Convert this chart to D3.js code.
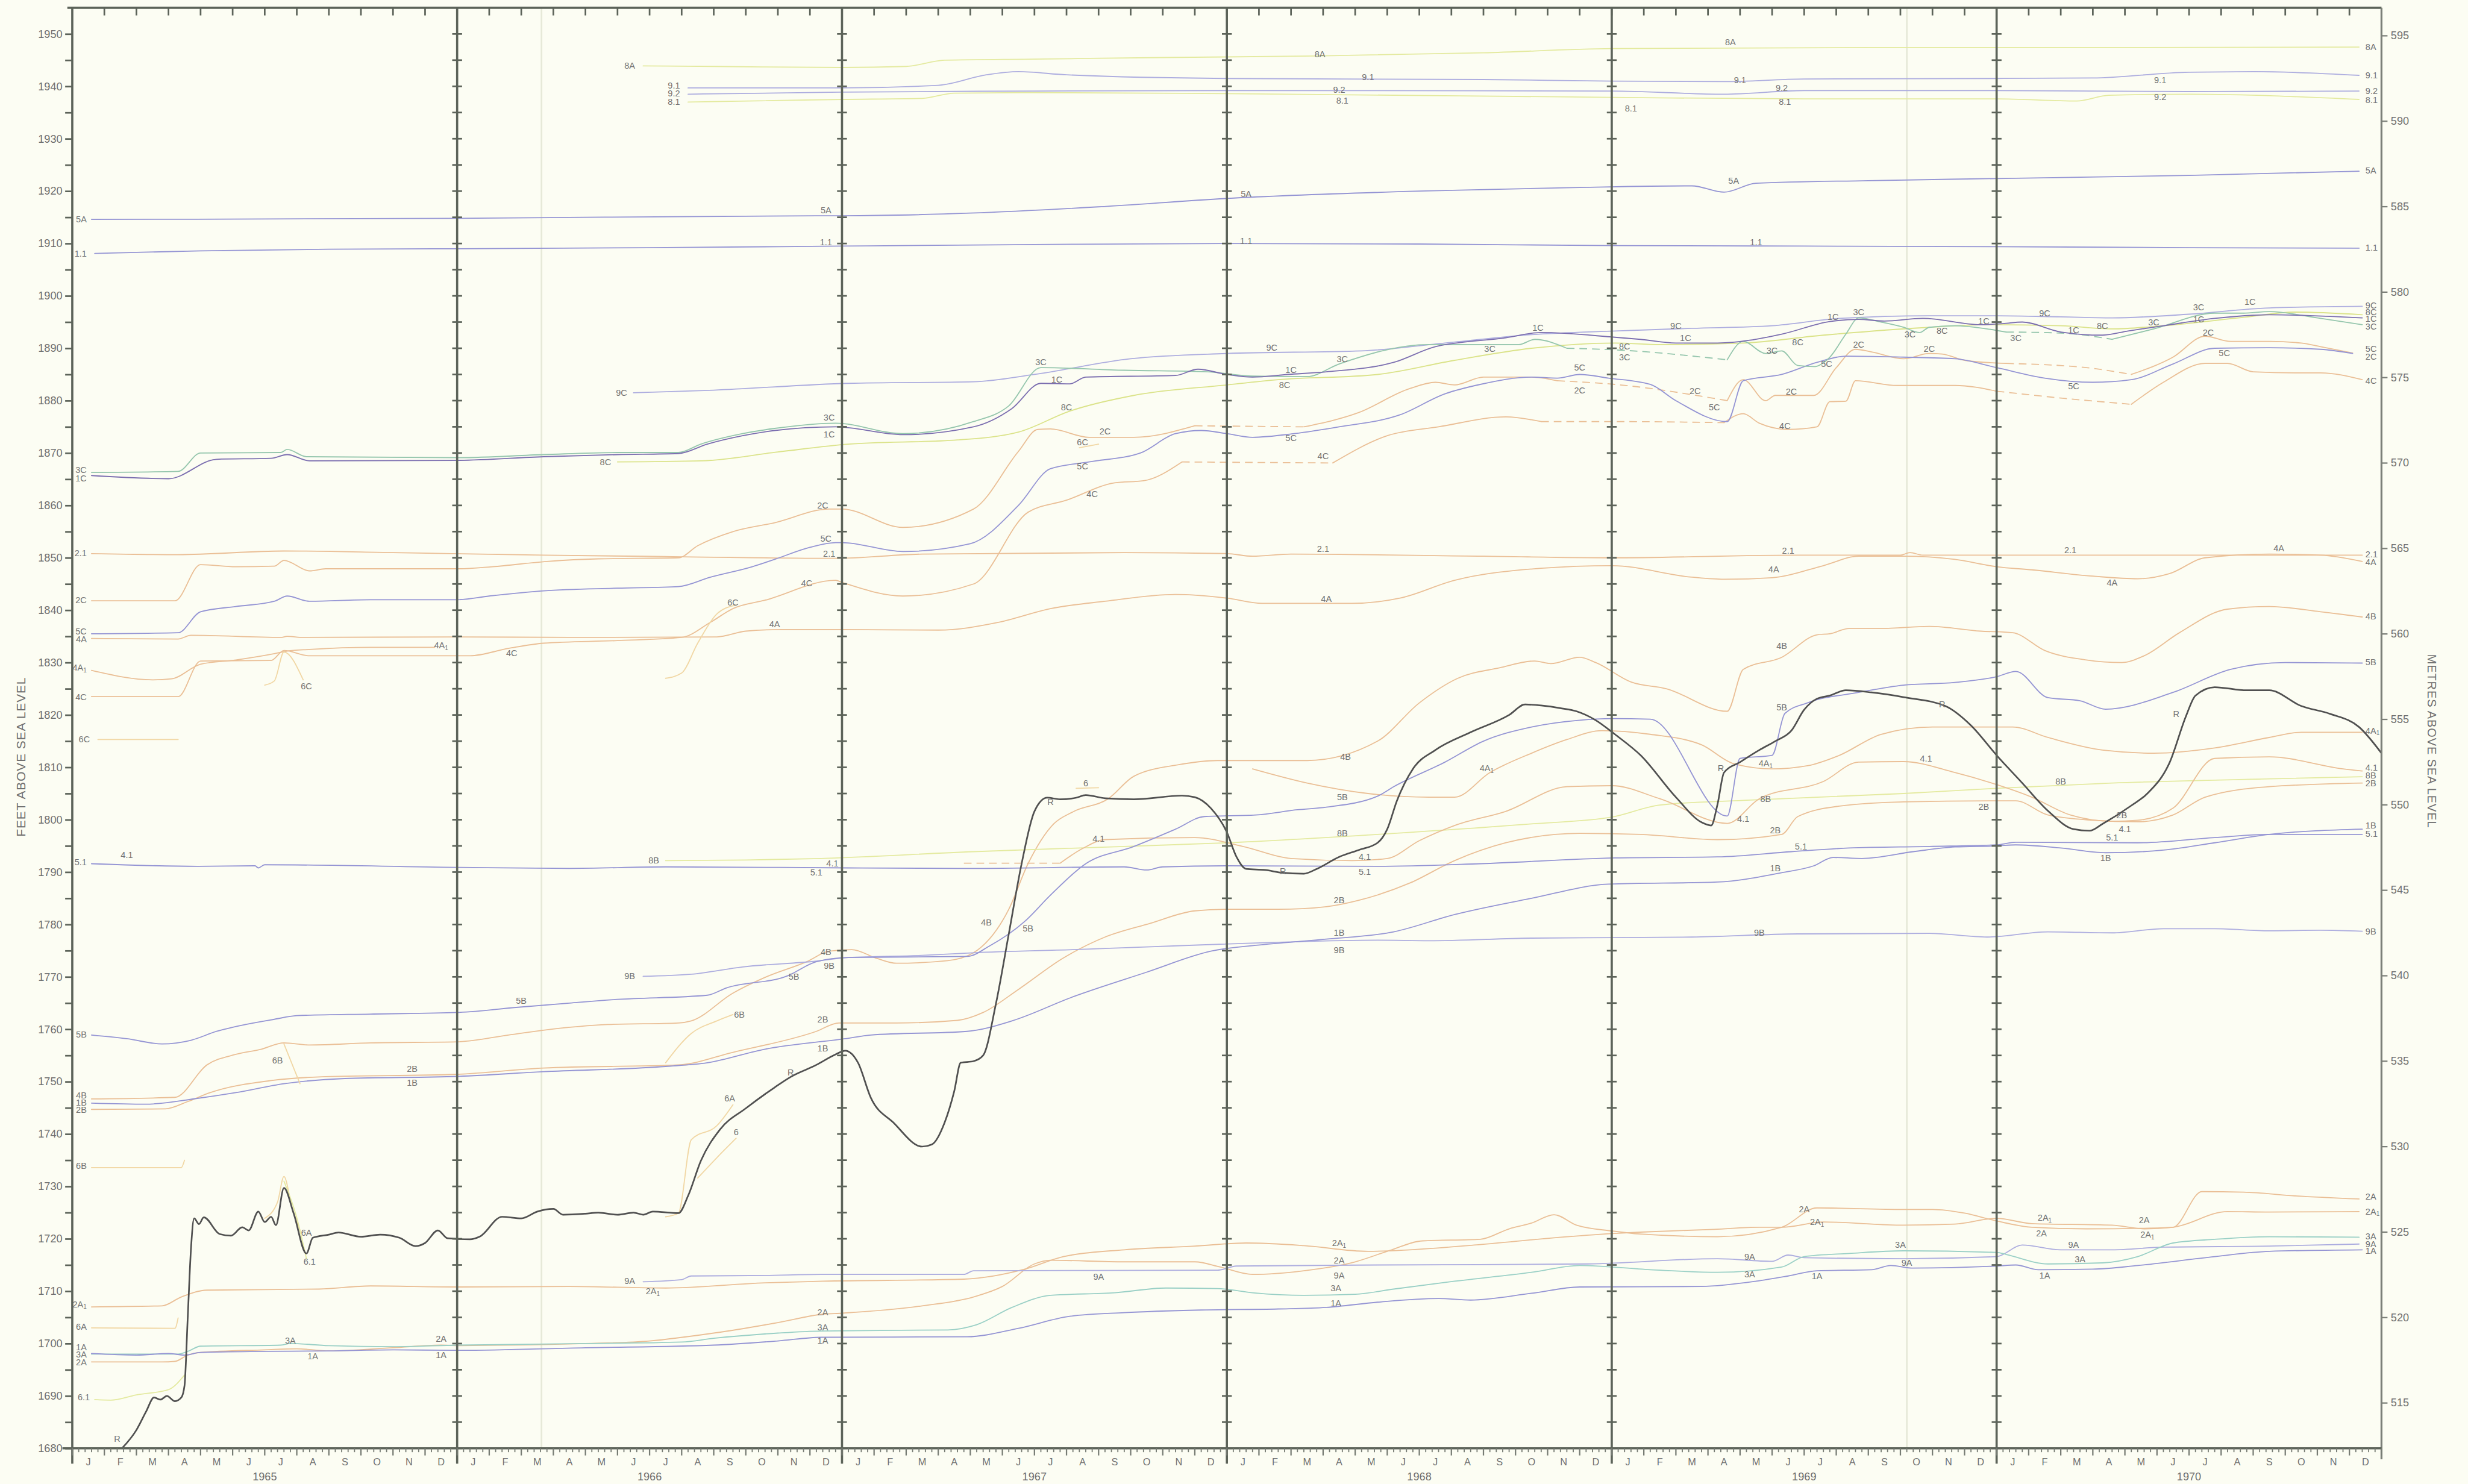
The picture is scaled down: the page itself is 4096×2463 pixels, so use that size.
<!DOCTYPE html>
<html><head><meta charset="utf-8">
<script src="https://cdn.jsdelivr.net/npm/d3@7"></script>
<style>html,body{margin:0;padding:0;background:#fcfdf3;}svg{display:block}</style>
</head><body>
<script>
// ---------------- DATA (t = months since 1 Jan 1965, value = feet above sea level) ----------------
const years = ['1965','1966','1967','1968','1969','1970'];
const monthLetters = ['J','F','M','A','M','J','J','A','S','O','N','D'];
const feetTicks = d3.range(1680, 1951, 5);
const metreTicks = d3.range(515, 596, 5);
const foldMonths = [14.63, 57.2];

const s8A = [[17.8,1943.9],[20,1943.8],[24,1943.6],[26,1943.8],[27.2,1945.0],[30,1945.2],[34,1945.5],[38.8,1945.8],[44,1946.4],[48,1947.2],[56,1947.4],[64,1947.4],[71.3,1947.5]];
const s91 = [[19.2,1939.7],[24,1939.7],[27,1940.2],[28.5,1942.2],[29.5,1942.8],[31,1942.2],[36,1941.5],[44,1941.3],[48,1941.0],[51.5,1940.9],[54,1941.4],[60,1941.5],[63,1941.6],[66,1942.7],[68,1942.8],[71.3,1942.1]];
const s92 = [[19.2,1938.5],[24,1938.9],[30,1939.1],[36,1939.2],[48,1939.1],[51.5,1938.5],[54,1939.2],[60,1939.2],[66,1939.0],[71.3,1939.1]];
const s81 = [[19.2,1937.0],[24,1937.5],[26.5,1937.7],[27.5,1938.7],[30,1938.8],[36,1938.6],[48,1937.9],[54,1937.6],[60,1937.6],[62.5,1937.2],[63.5,1938.3],[66,1938.5],[71.3,1937.5]];
const s5A = [[0.6,1914.6],[12,1914.8],[23.3,1915.3],[24,1915.3],[28,1915.8],[32,1917],[36,1918.6],[42,1920],[47,1920.7],[50.5,1921],[51.5,1919.8],[52.5,1921.5],[56,1922],[60,1922.4],[66,1923],[71.3,1923.8]];
const s11 = [[0.7,1908.1],[4,1908.6],[8,1908.9],[12,1909.0],[18,1909.2],[24,1909.5],[30,1909.8],[36,1910.0],[42,1909.9],[48,1909.6],[54,1909.5],[60,1909.4],[66,1909.2],[71.3,1909.1]];
const s9C = [[17.5,1881.5],[20,1882],[24.2,1883.3],[28.1,1883.6],[30,1885],[33,1888],[36,1889],[40.2,1889.5],[42.8,1891],[45.5,1892.6],[48.1,1893.3],[50.5,1893.8],[53,1894.3],[55.1,1895.7],[57.9,1896.2],[60,1896.2],[62,1896],[63.6,1895.8],[66,1896.5],[68.5,1897.7],[71.4,1898]];
const s3C_a = [[0.6,1866.3],[3.3,1866.5],[4.0,1870],[6.5,1870.1],[6.7,1870.7],[7.3,1869.3],[12,1869.1],[14.7,1869.7],[17,1870.1],[18.9,1870.1],[19.6,1871.7],[20.9,1873.7],[21.9,1874.7],[23.8,1875.7],[25.9,1873.7],[28.1,1876],[29.2,1879],[30.2,1886.3],[32.8,1885.8],[35.4,1885.5],[36.8,1884.7],[38.5,1884.6],[39.5,1887],[42.3,1890.7],[45.1,1890.7],[45.6,1891.7],[46.6,1890]];
const s3C_b = [[46.6,1890],[48.1,1889.7],[51.6,1887.8]];
const s3C_c = [[51.6,1887.8],[52.1,1891.3],[52.8,1889],[53.3,1889.5],[53.8,1886.7],[54.3,1886.5],[54.8,1888.3],[55.3,1892.7],[55.7,1895.8],[56.4,1895],[57.1,1894],[57.6,1893],[57.9,1894],[58.7,1894.3],[59.7,1893.7],[60.3,1893.1]];
const s3C_d = [[60.3,1893.1],[62,1892.9],[63.6,1891.7]];
const s3C_e = [[63.6,1891.7],[64.9,1893.7],[66.8,1896.7],[67.7,1896.7],[68.5,1897.0],[70.1,1895.7],[71.4,1894.5]];
const s1C = [[0.6,1865.7],[3.0,1865.1],[4.5,1868.8],[6.2,1869],[6.7,1869.7],[7.4,1868.5],[12,1868.6],[14.7,1869.3],[17,1869.7],[18.9,1869.9],[19.8,1871.7],[20.9,1873.3],[21.9,1874.3],[23.8,1875],[25.9,1873.5],[28.1,1875],[29.3,1878.5],[30.2,1883.3],[31.1,1883.2],[31.6,1884.5],[34.4,1884.8],[35.1,1886],[36,1885],[36.8,1884.5],[37.9,1885],[39.1,1885.5],[41.2,1887.3],[42.5,1890.3],[44.7,1892],[45.8,1893],[48.1,1892.1],[48.9,1891.7],[50,1891],[51.3,1891],[53.3,1892.7],[54.8,1895.1],[55.7,1895.5],[56.5,1895.2],[57.7,1895.7],[59.5,1894.5],[60.2,1894.7],[60.8,1895],[62,1893.1],[63.3,1892.5],[64.1,1893.3],[65.2,1894.3],[66.8,1895.7],[68,1896.3],[68.5,1896.4],[71.4,1895.8]];
const s8C = [[17,1868.3],[19.6,1868.5],[22,1870.2],[24.2,1871.7],[27.6,1872.5],[29.5,1874],[31.1,1878],[33.1,1881],[36,1883],[37.6,1884],[40.7,1885],[43.1,1887.7],[45.5,1890],[48.1,1891],[49.5,1890.7],[52.1,1891],[54.6,1892.5],[57.9,1894],[59.7,1894.5],[62,1894.3],[63.6,1893.7],[65.2,1894.3],[67.7,1895.9],[69.3,1896.9],[71.4,1896.4]];
const s2C_a = [[0.6,1841.8],[3.2,1841.8],[4.0,1848.7],[5.1,1848.3],[6.3,1848.4],[6.6,1849.5],[7.4,1847.5],[7.9,1847.9],[12,1847.9],[13.1,1848.3],[14.8,1849.3],[16.4,1849.8],[18.9,1850],[19.5,1852.3],[20.6,1855],[21.9,1856.7],[23.6,1859.3],[24,1859.3],[25.9,1855.8],[28.1,1859.3],[29.5,1870.3],[30.1,1874.5],[30.5,1874.6],[31.7,1873],[33.1,1873],[35,1875.2]];
const s2C_b = [[35,1875.2],[38.4,1875]];
const s2C_c = [[38.4,1875],[40.1,1877.7],[41.7,1882.3],[42.5,1883.5],[43.1,1883],[44,1884.5],[45.5,1884.5],[46.3,1883.8]];
const s2C_d = [[46.3,1883.8],[48.1,1883.1],[51.6,1880]];
const s2C_e = [[51.6,1880],[52.1,1884],[52.8,1880],[53.1,1881],[54.3,1881],[55,1886.3],[55.6,1889.8],[56.1,1889.3],[57.1,1888],[57.9,1889],[58.3,1888.9],[59,1887.7],[60.3,1887.1]];
const s2C_f = [[60.3,1887.1],[62.8,1886.3],[64.2,1885]];
const s2C_g = [[64.2,1885],[65.5,1888.3],[66.5,1892.3],[67.3,1891.3],[68.5,1891.3],[69.5,1891],[70.1,1890.3],[71.1,1889.1]];
const s5C = [[0.6,1835.5],[3.3,1835.7],[4.0,1839.7],[5.1,1840.7],[6.3,1841.7],[6.7,1842.7],[7.4,1841.7],[9.3,1842],[12,1842],[13,1842.7],[14.7,1843.7],[17,1844.2],[18.9,1844.5],[19.9,1846.3],[21.2,1848.3],[21.9,1849.7],[23,1852],[23.8,1852.9],[24,1852.9],[25.9,1851.2],[28,1852.7],[29.5,1860],[30.5,1867],[31.7,1868.3],[33.3,1870],[34.4,1873.7],[35.2,1874.3],[36,1873.7],[36.8,1873],[38.1,1873.7],[39.5,1875],[41.4,1877.3],[42.8,1881.3],[43.9,1883.1],[45.5,1884.5],[46.3,1884.3],[47,1885],[47.9,1884.3],[49.2,1883.1],[50,1880],[51.6,1876],[52.1,1883.8],[53.3,1885],[54.4,1887.3],[55.3,1888.5],[57.1,1888.3],[58.7,1888],[60,1886.3],[61.5,1884.3],[63,1883.5],[64.2,1884],[65.5,1887],[66.8,1890],[68.5,1890.1],[70.1,1889.8],[71.1,1889]];
const s4C_a = [[0.6,1823.5],[3.3,1823.5],[4.0,1830.3],[6.2,1830.4],[6.6,1832.3],[7.4,1831.3],[12.4,1831.3],[13.6,1832.7],[14.7,1833.7],[17,1834.2],[19,1834.8],[19.9,1837.7],[20.6,1840.3],[21.6,1841.9],[23.8,1845.7],[24,1845.3],[25.9,1842.7],[28.1,1845],[29.8,1858.7],[31,1861],[32.5,1864.3],[33.4,1864.7],[34.6,1868.3]];
const s4C_b = [[34.6,1868.3],[39.3,1868.1]];
const s4C_c = [[39.3,1868.1],[41,1873.3],[42.6,1875],[44.7,1876.9],[45.8,1876]];
const s4C_d = [[45.8,1876],[48.1,1876],[51.5,1875.8]];
const s4C_e = [[51.5,1875.8],[52.1,1877.5],[52.6,1875.7],[53.5,1874.5],[54.4,1875],[54.8,1879.8],[55.3,1879.9],[55.6,1883.8],[56.9,1882.9],[58.7,1882.9],[60,1881.8]];
const s4C_f = [[60,1881.8],[62,1880.5],[64.2,1879.3]];
const s4C_g = [[64.2,1879.3],[65.2,1883.5],[66.5,1887.1],[67.2,1887.1],[68,1885.5],[69.3,1885.3],[70.1,1885.3],[71.4,1884]];
const s6C_a = [[0.8,1815.3],[3.3,1815.3]];
const s6C_b = [[6.0,1825.7],[6.3,1826.5],[6.6,1832],[7.2,1826.7]];
const s6C_c = [[18.5,1827],[19.0,1828],[19.5,1833.7],[20.1,1839.3],[20.7,1841]];
const s6C_d = [[31.4,1871],[32,1871.7]];
const s4A = [[0.6,1834.6],[3.3,1834.5],[3.7,1835.2],[6.5,1834.8],[6.7,1835],[7.2,1834.8],[12,1834.9],[15.5,1834.8],[20.1,1834.9],[21,1836],[22.1,1836.3],[24,1836.3],[27,1836.2],[28.9,1837.7],[30.5,1840.3],[32.2,1841.7],[34.4,1843],[36,1842.3],[37.1,1841.3],[39.9,1841.3],[41.4,1842.3],[43.1,1845.7],[45.8,1848],[48,1848.5],[50.5,1846.3],[51.5,1845.9],[53,1846.2],[54.6,1848.5],[55.7,1850.3],[57.1,1850.3],[58.7,1849.7],[60,1848.3],[61.1,1847.7],[63,1846.5],[64.4,1846],[65.4,1847],[66.5,1850],[68.5,1850.7],[70.1,1850.5],[71.4,1849.3]];
const s4A1_a = [[0.6,1828.5],[2.5,1826.7],[3.1,1826.9],[4.0,1829.7],[5.1,1830.5],[6.3,1831.7],[6.7,1832.2],[7.4,1832.5],[9.3,1832.9],[11.3,1832.9]];
const s4A1_b = [[36.8,1809.7],[38.5,1807],[40.4,1805],[42.3,1804.3],[43.1,1804.3],[44.2,1809],[45.5,1812.7],[46.6,1815.3],[47.7,1817],[49.2,1816.3],[50.8,1814.3],[51.8,1810.7],[53,1809.7],[54.1,1810.3],[55.1,1812.3],[56.4,1816.3],[58,1817.7],[60.5,1817.7],[61.6,1815.7],[63.3,1813.3],[64.9,1812.7],[66.8,1813.7],[68.5,1815.7],[69.5,1816.7],[71.4,1816.7]];
const s21 = [[0.6,1850.8],[3.3,1850.6],[6.6,1851.3],[10,1851],[14.7,1850.5],[19,1850.2],[23.8,1849.9],[26.5,1850.7],[32.8,1851],[36,1850.8],[36.8,1850.3],[38,1850.7],[44,1850.3],[48,1850],[53.8,1850.5],[57,1850.5],[57.3,1851],[57.7,1850.5],[71.4,1850.5]];
const s4B = [[0.6,1746.7],[3.2,1747],[4.2,1753.2],[5.1,1755.2],[5.9,1756.2],[6.6,1757.4],[7.4,1757],[9.3,1757.4],[12,1757.6],[13.6,1758.9],[14.8,1759.9],[16.7,1760.9],[18.9,1761.2],[19.3,1761.6],[20.6,1766.9],[21.6,1769.9],[22.9,1772.9],[23.6,1774.9],[24.3,1775.2],[25.1,1773.5],[25.7,1772.6],[27.3,1773.1],[28.1,1774.6],[29.2,1782.9],[29.8,1791.6],[30.6,1799.2],[31.2,1801.5],[32.3,1804],[33.1,1808.3],[34.5,1810.5],[35.7,1811.3],[38.5,1811.3],[40.7,1815],[42,1822.3],[43.2,1827],[44.5,1829],[45.6,1830.3],[46.1,1829.8],[47,1831],[47.5,1830],[48.6,1826.3],[49.7,1825],[51.6,1820.7],[52.1,1828.7],[53.3,1831],[54.4,1835.3],[54.8,1835.5],[55.4,1836.5],[56.4,1836.5],[57.9,1836.9],[59.5,1836],[60.5,1835.7],[61.5,1832.3],[62.8,1830.5],[63.9,1830],[64.6,1831.3],[65.7,1835.7],[67.2,1840.2],[68.5,1840.7],[70.1,1839.7],[71.4,1838.7]];
const s5B = [[0.6,1758.9],[1.7,1758.2],[2.8,1757.2],[3.7,1757.9],[4.5,1759.6],[5.4,1760.9],[6.3,1761.9],[7,1762.6],[9.3,1762.9],[12,1763.2],[13.9,1764.2],[15.5,1765],[17,1765.7],[19.8,1766.5],[20.4,1767.9],[22.3,1770.2],[23.2,1772.9],[24.2,1773.7],[27.9,1773.9],[28.6,1775.9],[29.7,1780.6],[30.5,1785.6],[31.6,1791.6],[33.1,1794.9],[34.4,1798.2],[35.3,1800.6],[36.9,1800.9],[38.2,1801.9],[39.1,1802.4],[40.7,1804.5],[41.2,1806.3],[42.8,1811],[44,1815],[45.5,1817.7],[47,1819],[48,1819.3],[49.2,1819.2],[51.6,1800.7],[52,1811.7],[53,1812.3],[53.4,1820.3],[54.1,1822.3],[55.7,1824.3],[57.1,1825.7],[58.7,1826.2],[60,1827.3],[60.6,1828.3],[61.6,1823.3],[62.6,1822.7],[63.4,1821.1],[65.5,1824.3],[67.3,1828.7],[69,1830],[71.4,1829.9]];
const s9B = [[17.8,1770.1],[19.3,1770.5],[20.9,1771.9],[23.2,1773],[24.2,1773.7],[26.5,1774.1],[28.1,1774.6],[31.2,1775.2],[35.2,1776.1],[37.6,1776.6],[40.7,1777],[42.3,1776.9],[45.5,1777.4],[48.1,1777.5],[50.5,1777.6],[53.8,1778.2],[57.9,1778.3],[59.7,1777.6],[61.6,1778.6],[63.6,1778.4],[65.2,1779.2],[66.8,1779.2],[68.5,1778.8],[70.1,1778.9],[71.4,1778.7]];
const s1B = [[0.6,1745.9],[2.3,1745.7],[3.9,1746.8],[5.1,1747.9],[6.6,1749.6],[8.5,1750.6],[12,1751],[14.7,1751.9],[18.5,1752.9],[19.8,1753.6],[21.6,1756.2],[24.1,1758.2],[24.9,1758.9],[27.9,1759.6],[29.3,1761.6],[31.2,1766.2],[33.5,1770.9],[35.5,1774.9],[37.2,1776.2],[39.1,1777.2],[41.2,1778.6],[43.1,1781.9],[45.5,1785],[47.9,1787.7],[51.3,1788.1],[53.3,1789.9],[54.3,1791.2],[54.9,1792.8],[55.8,1792.6],[57.4,1793.9],[58.7,1794.8],[60,1795],[60.6,1795.2],[62,1794.6],[63.4,1793.7],[65.2,1794.2],[66.8,1795.6],[68.5,1797.2],[71.4,1798.2]];
const s2B = [[0.6,1744.7],[2.9,1744.8],[3.6,1746.2],[4.3,1747.9],[6.2,1750.2],[7.7,1750.9],[12,1751.4],[14.7,1752.6],[18.9,1753.2],[20.6,1755.6],[23.2,1759.6],[23.9,1761.2],[25.7,1761.2],[27.6,1761.7],[28.4,1763.2],[29.5,1767.6],[30.9,1773.6],[32.2,1777.6],[33.6,1780.2],[35,1782.6],[36,1782.9],[37.6,1782.9],[39.1,1783.4],[40.1,1784.6],[41.7,1787.9],[43.1,1792.2],[44.7,1795.6],[47,1797.4],[48.9,1797.2],[51.3,1796.2],[53.3,1797.2],[53.8,1800.6],[55.1,1802.6],[57.1,1803.4],[60,1803.6],[60.6,1803.6],[61.6,1800.9],[63,1799.9],[64.4,1799.6],[65.5,1800.9],[66.5,1804.3],[68.5,1806.3],[71.4,1807]];
const s41_a = [[27.8,1791.7],[30.8,1791.7]];
const s41_b = [[30.8,1791.7],[31.5,1794.5],[32.2,1796.2],[35,1796.6],[36.5,1794.9],[38,1792.6],[39.9,1792.2],[41,1792.6],[42,1796],[43.1,1798.9],[44.7,1801.6],[46.6,1806.3],[48,1806.5],[49.5,1804],[51.6,1799.3],[52.6,1804],[54.6,1807.3],[55.7,1811],[57.1,1811.1],[58.7,1809],[60,1806.7],[61.1,1804.3],[62.3,1800.9],[63.6,1799.7],[64.4,1799.9],[65.5,1802.2],[66.8,1811.7],[68.5,1812],[70.8,1809.7],[71.4,1809.3]];
const s8B = [[18.5,1792.2],[21,1792.3],[23.35,1792.6],[28.1,1793.9],[32.8,1794.9],[36,1795.6],[40.7,1797.2],[45.5,1799.2],[48,1800.5],[49.5,1802.8],[52.1,1803.7],[57.1,1805],[60,1806],[63.6,1807],[68.5,1807.8],[71.4,1808.2]];
const s51 = [[0.6,1791.6],[3.9,1791.1],[5.7,1791.2],[5.8,1790.8],[6.0,1791.4],[12,1790.9],[15.5,1790.7],[18.5,1791.0],[24.2,1790.8],[28,1790.7],[32.8,1791.0],[33.5,1790.4],[34,1791],[36,1791.2],[40.7,1791.1],[43.9,1791.6],[48.1,1792.7],[51.3,1792.9],[53.6,1793.9],[55.4,1794.6],[57.9,1794.9],[60,1795.2],[60.6,1795.7],[64.4,1795.6],[66.8,1796.6],[68.5,1797.2],[71.4,1797.2]];
const sR = [[1.55,1680],[2.0,1683.5],[2.3,1687],[2.55,1689.7],[2.75,1689.3],[2.95,1690],[3.2,1689],[3.4,1689.7],[3.5,1692],[3.6,1705],[3.7,1718],[3.8,1723.9],[3.95,1722.8],[4.1,1724.1],[4.6,1720.9],[4.95,1720.6],[5.3,1722.2],[5.5,1721.6],[5.8,1725.2],[6.0,1723.2],[6.2,1724.2],[6.35,1722.6],[6.6,1729.7],[6.9,1724.9],[7.3,1717.2],[7.5,1720.2],[8.0,1720.8],[8.3,1721.2],[9.0,1720.4],[9.6,1720.8],[10.2,1720.2],[10.7,1718.6],[11.0,1719.2],[11.4,1721.6],[11.7,1720.1],[12.4,1719.9],[12.7,1720.4],[13.4,1724.2],[14.0,1723.9],[14.5,1725.2],[15.0,1725.7],[15.3,1724.6],[16.0,1724.8],[16.4,1725],[17.0,1724.6],[17.5,1725.0],[17.8,1724.6],[18.1,1725.2],[18.9,1724.9],[19.2,1728.2],[19.6,1734.9],[20.2,1740.9],[21.0,1744.9],[21.9,1748.9],[22.4,1750.9],[23.2,1753.2],[23.8,1755.2],[24.1,1755.9],[24.5,1753.6],[24.9,1746.9],[25.6,1742.2],[26.5,1737.6],[26.8,1738],[27.2,1742.2],[27.5,1748.2],[27.7,1753.6],[28.1,1753.9],[28.4,1755],[28.8,1764.9],[29.2,1778.2],[29.6,1791.6],[30.0,1801.6],[30.4,1804.2],[30.8,1803.9],[31.3,1804.2],[31.6,1804.7],[32.2,1804.1],[33.1,1803.9],[34.6,1804.6],[35.0,1804.3],[35.5,1802.2],[36.0,1797.6],[36.3,1792.9],[36.6,1790.6],[37.2,1790.4],[37.7,1789.9],[38.4,1789.7],[38.8,1790.6],[39.5,1792.9],[40.1,1794.2],[40.7,1795.6],[41.0,1798.2],[41.3,1803.6],[41.8,1809.7],[42.5,1813.3],[43.6,1816.7],[44.8,1820],[45.3,1822],[45.8,1821.8],[46.4,1821.3],[46.9,1820.7],[47.5,1819],[48.1,1816.3],[48.9,1812.3],[50,1804.3],[50.8,1799.5],[51.1,1798.9],[51.3,1803],[51.5,1809],[52,1811],[52.6,1813.3],[53.1,1815],[53.6,1817],[54,1821],[54.4,1823.1],[54.8,1823.7],[55.3,1824.7],[56.1,1824.3],[57.1,1823.4],[58.4,1821.7],[59.2,1818],[60,1812.3],[60.8,1807],[61.6,1801.7],[62.4,1798.2],[62.9,1797.9],[63.3,1799.2],[64.2,1802.7],[64.7,1805],[65.4,1811],[65.9,1819.7],[66.2,1823.7],[66.8,1825.3],[67.8,1824.7],[68.5,1824.7],[69.5,1821.7],[70.4,1820.2],[71.3,1817.7],[72,1812.7]];
const s6_a = [[19.5,1731.6],[20.1,1735.5],[20.7,1739.2]];
const s6_b = [[31.3,1806],[32,1806.1]];
const s6A_a = [[0.6,1703],[3.2,1702.9],[3.3,1704.9]];
const s6A_b = [[6.0,1723.9],[6.4,1727],[6.6,1731.9],[6.85,1726],[7.1,1721.6]];
const s6A_c = [[18.5,1724.2],[18.9,1724.9],[19.3,1738.9],[20.1,1741.6],[20.6,1745.6]];
const s61_a = [[0.7,1689.3],[1.2,1689.2],[2,1690.2],[3,1691.2],[3.5,1694]];
const s61_b = [[6.6,1731],[7.0,1724],[7.3,1716.2]];
const s6B_a = [[0.6,1733.6],[3.4,1733.6],[3.5,1735]];
const s6B_b = [[6.6,1757.2],[7.1,1749.6]];
const s6B_c = [[18.5,1753.6],[19.3,1759.2],[20.1,1761.6],[20.6,1762.8]];
const s2A1 = [[0.6,1707],[2.8,1707.2],[3.4,1708.9],[4.2,1710.2],[7.7,1710.4],[9.3,1711],[12,1710.8],[15.5,1710.9],[18.5,1710.6],[21.6,1711.6],[23.4,1711.9],[27.8,1712.3],[29.7,1714.2],[30.9,1716.6],[32.8,1717.9],[35,1718.6],[36.6,1719.2],[38.4,1718.7],[40.4,1717.6],[41.7,1717.9],[43.9,1718.9],[46.2,1720.2],[48,1721],[49,1721.3],[51.2,1721.8],[52.6,1722.2],[53.3,1722.2],[54.6,1723.2],[57.1,1722.6],[58.7,1722.8],[60,1723.9],[61.1,1722.9],[63.6,1722.6],[64.6,1721.9],[65.5,1722.2],[67.2,1725.2],[68.5,1725.1],[71.3,1725.2]];
const s2A = [[0.6,1696.5],[2.8,1696.5],[3.2,1696.6],[3.6,1697.8],[4.0,1698.3],[6,1698.8],[7,1699],[8,1698.6],[10,1699.2],[11.5,1699.7],[12,1699.6],[16,1700],[18,1700.5],[20,1702],[22,1704],[23.4,1705.6],[24,1705.8],[26.5,1707.2],[28.1,1708.9],[29,1710.9],[30,1715.2],[30.5,1715.9],[32.8,1715.6],[35,1715.6],[35.8,1714.6],[36.8,1713.2],[38.4,1713.9],[40,1715.6],[41,1717.6],[42.1,1719.6],[43.9,1719.9],[44.8,1721.9],[45.5,1723],[46.2,1724.6],[46.9,1722.6],[48,1721.5],[48.9,1720.9],[51.3,1720.4],[53.3,1722.2],[54.4,1725.9],[57.1,1725.6],[58,1725.6],[59,1724.9],[60,1723.4],[61.1,1722.2],[62.8,1721.9],[64.5,1722],[65.5,1722.2],[66.4,1729],[67.7,1728.9],[69.3,1728.2],[71.3,1727.6]];
const s9A = [[17.8,1711.8],[19,1712.2],[19.3,1712.9],[21.6,1713],[23.35,1713.2],[27.8,1713.2],[28.1,1713.9],[35.7,1714],[36.3,1714.8],[40.7,1715],[47.25,1715.2],[51.3,1716.2],[53,1715.7],[53.5,1716.9],[54,1716.4],[57.1,1716.2],[60,1716.6],[60.8,1718.8],[62,1717.9],[63.6,1717.9],[65.2,1718.4],[68.5,1718.6],[71.3,1719]];
const s3A = [[0.6,1698],[3.3,1698],[3.6,1698.5],[4,1699.5],[6.5,1699.7],[6.8,1700],[8,1699.6],[10,1699.4],[12,1699.7],[16,1700],[19,1700.3],[20,1701],[22,1702],[23.35,1702.4],[27.3,1702.6],[28.2,1703.6],[29.3,1706.9],[30.5,1709.2],[32.5,1709.7],[34.1,1710.6],[35.7,1710.5],[36.8,1709.7],[38.4,1709.2],[40,1709.4],[41.2,1710.4],[43.1,1711.9],[45.5,1713.6],[47,1714.9],[49.2,1714.1],[51.3,1713.6],[53.3,1714.6],[54,1716.6],[55.4,1717.2],[57.1,1717.7],[60,1717.4],[60.3,1717],[61.6,1715.2],[63.3,1715.4],[64.4,1716.6],[65.5,1719.2],[66.8,1719.9],[68.5,1720.4],[71.3,1720.3]];
const s1A = [[0.6,1698.1],[2,1697.8],[3,1698.1],[3.5,1697.8],[4,1698.3],[6,1698.5],[8,1698.6],[10,1698.8],[12,1698.7],[16,1699.2],[20,1699.7],[22,1700.5],[23.35,1701.2],[27.9,1701.3],[29.5,1702.9],[31.1,1705.2],[32.8,1705.9],[35.2,1706.4],[37.6,1706.6],[39.1,1706.9],[40.7,1707.9],[42.6,1708.6],[43.6,1708.3],[45.5,1709.6],[47,1710.8],[50.8,1710.9],[52.5,1711.9],[53.5,1712.9],[54.4,1713.9],[56.1,1714.1],[56.7,1714.9],[57.4,1714.4],[60,1714.8],[60.6,1715],[61.3,1714.1],[63,1714.2],[64.4,1714.9],[66.8,1716.6],[68.5,1717.6],[71.4,1717.9]];

// series labels: [text, t, value, anchor]  (e=end, s=start, m=middle; "_" marks a subscript)
const labels = [
 ['5A',0.5,1914.6,'e'],['1.1',0.5,1908.1,'e'],['3C',0.5,1866.8,'e'],['1C',0.5,1865.2,'e'],['2.1',0.5,1850.9,'e'],['2C',0.5,1841.9,'e'],['5C',0.5,1835.9,'e'],['4A',0.5,1834.5,'e'],['4A_1',0.5,1829.0,'e'],['4C',0.5,1823.4,'e'],['6C',0.6,1815.3,'e'],
 ['5.1',0.5,1791.9,'e'],['4.1',1.7,1793.3,'m'],['5B',0.5,1759.0,'e'],['4B',0.5,1747.4,'e'],['1B',0.5,1746.0,'e'],['2B',0.5,1744.6,'e'],['6B',0.5,1733.9,'e'],['2A_1',0.5,1707.5,'e'],['6A',0.5,1703.2,'e'],['1A',0.5,1699.3,'e'],['3A',0.5,1697.9,'e'],['2A',0.5,1696.4,'e'],['6.1',0.6,1689.8,'e'],['R',1.4,1681.8,'m'],
 ['8A',17.6,1943.9,'e'],['9.1',19.0,1940.2,'e'],['9.2',19.0,1938.6,'e'],['8.1',19.0,1937.0,'e'],['9C',17.35,1881.5,'e'],['8C',16.85,1868.3,'e'],['9B',17.6,1770.2,'e'],['8B',18.35,1792.2,'e'],['9A',17.6,1712.0,'e'],
 ['5A',23.5,1916.3,'m'],['1.1',23.5,1910.3,'m'],['3C',23.6,1876.8,'m'],['1C',23.6,1873.5,'m'],['2C',23.4,1860,'m'],['5C',23.5,1853.7,'m'],['2.1',23.6,1850.8,'m'],['4C',22.9,1845.1,'m'],['6C',20.6,1841.5,'m'],['4A',21.9,1837.3,'m'],['4A_1',11.5,1833.3,'m'],['4C',13.7,1831.8,'m'],['6C',7.3,1825.5,'m'],
 ['4.1',23.7,1791.7,'m'],['5.1',23.2,1789.9,'m'],['5B',14,1765.4,'m'],['4B',23.5,1774.8,'m'],['9B',23.6,1772.1,'m'],['5B',22.5,1770,'m'],['6B',20.8,1762.8,'m'],['2B',23.4,1761.9,'m'],['1B',23.4,1756.4,'m'],['2B',10.6,1752.4,'m'],['1B',10.6,1749.8,'m'],['6B',6.4,1754.1,'m'],['R',22.4,1751.8,'m'],['6A',20.5,1746.8,'m'],['6',20.7,1740.4,'m'],['6A',7.3,1721.2,'m'],['6.1',7.4,1715.6,'m'],
 ['2A_1',18.1,1710,'m'],['2A',23.4,1706,'m'],['3A',23.4,1703.1,'m'],['1A',23.4,1700.6,'m'],['2A',11.5,1700.9,'m'],['3A',6.8,1700.6,'m'],['1A',7.5,1697.6,'m'],['1A',11.5,1697.8,'m'],
 ['3C',30.2,1887.3,'m'],['1C',30.7,1884,'m'],['8C',31,1878.7,'m'],['2C',32.2,1874.1,'m'],['6C',31.5,1872,'m'],['5C',31.5,1867.5,'m'],['4C',31.8,1862.2,'m'],
 ['9C',37.4,1890.1,'m'],['1C',38,1885.9,'m'],['3C',39.6,1887.9,'m'],['8C',37.8,1883,'m'],['5C',38,1872.9,'m'],['4C',39,1869.4,'m'],['1C',45.7,1893.9,'m'],['3C',44.2,1889.9,'m'],['5C',47,1886.3,'m'],['2C',47,1881.9,'m'],
 ['2.1',39,1851.7,'m'],['4A',39.1,1842.2,'m'],['4B',39.7,1812,'m'],['4A_1',44.1,1809.8,'m'],['5B',39.6,1804.3,'m'],['6',31.6,1807,'m'],['R',30.5,1803.4,'m'],
 ['4.1',32,1796.4,'m'],['4B',28.5,1780.4,'m'],['5B',29.8,1779.2,'m'],['8B',39.6,1797.4,'m'],['4.1',40.3,1792.9,'m'],['R',37.75,1790.2,'m'],['5.1',40.3,1790.1,'m'],['2B',39.5,1784.6,'m'],['1B',39.5,1778.4,'m'],['9B',39.5,1775.1,'m'],
 ['9A',32,1712.7,'m'],['2A_1',39.5,1719.2,'m'],['2A',39.5,1715.9,'m'],['9A',39.5,1713,'m'],['3A',39.4,1710.6,'m'],['1A',39.4,1707.7,'m'],
 ['8A',38.9,1946.1,'m'],['9.1',40.4,1941.8,'m'],['9.2',39.5,1939.4,'m'],['8.1',39.6,1937.3,'m'],['5A',36.6,1919.5,'m'],['1.1',36.6,1910.5,'m'],
 ['8A',51.7,1948.4,'m'],['9.1',52,1941.2,'m'],['9.2',53.3,1939.7,'m'],['8.1',48.6,1935.8,'m'],['8.1',53.4,1937,'m'],['5A',51.8,1922,'m'],['1.1',52.5,1910.2,'m'],
 ['9.1',65.1,1941.2,'m'],['9.2',65.1,1938,'m'],
 ['9C',50,1894.2,'m'],['1C',50.3,1891.9,'m'],['8C',48.4,1890.3,'m'],['3C',48.4,1888.3,'m'],['1C',54.9,1896,'m'],['3C',55.7,1896.9,'m'],['8C',53.8,1891.2,'m'],['3C',53,1889.5,'m'],['5C',54.7,1887,'m'],['2C',55.7,1890.7,'m'],['2C',50.6,1881.8,'m'],['2C',53.6,1881.7,'m'],['5C',51.2,1878.7,'m'],['4C',53.4,1875.2,'m'],
 ['3C',57.3,1892.7,'m'],['8C',58.3,1893.3,'m'],['2C',57.9,1889.9,'m'],['1C',59.6,1895.2,'m'],['9C',61.5,1896.7,'m'],['3C',60.6,1891.9,'m'],['1C',62.4,1893.5,'m'],['8C',63.3,1894.2,'m'],['3C',64.9,1894.9,'m'],['3C',66.3,1897.8,'m'],['1C',66.3,1895.5,'m'],['1C',67.9,1898.9,'m'],['2C',66.6,1893,'m'],['5C',67.1,1889.1,'m'],['5C',62.4,1882.7,'m'],
 ['2.1',53.5,1851.3,'m'],['4A',53.05,1847.8,'m'],['2.1',62.3,1851.5,'m'],['4A',63.6,1845.3,'m'],['4A',68.8,1851.8,'m'],['4B',53.3,1833.2,'m'],['5B',53.3,1821.5,'m'],['R',51.4,1809.8,'m'],['4A_1',52.8,1810.7,'m'],['R',58.3,1822,'m'],['4.1',57.8,1811.7,'m'],['8B',52.8,1804,'m'],['8B',62,1807.3,'m'],['R',65.6,1820.2,'m'],['2B',59.6,1802.5,'m'],
 ['4.1',52.1,1800.2,'m'],['2B',53.1,1798,'m'],['5.1',53.9,1794.9,'m'],['1B',53.1,1790.7,'m'],['2B',63.9,1800.9,'m'],['4.1',64.0,1798.2,'m'],['5.1',63.6,1796.6,'m'],['1B',63.4,1792.7,'m'],['9B',52.6,1778.4,'m'],
 ['2A',54,1725.6,'m'],['2A_1',54.4,1723.2,'m'],['3A',57,1718.9,'m'],['9A',52.3,1716.5,'m'],['3A',52.3,1713.2,'m'],['1A',54.4,1712.9,'m'],['9A',57.2,1715.4,'m'],['2A_1',61.5,1724,'m'],['2A',61.4,1721,'m'],['9A',62.4,1718.8,'m'],['3A',62.6,1716.1,'m'],['1A',61.5,1713,'m'],['2A',64.6,1723.6,'m'],['2A_1',64.7,1720.8,'m'],
 ['8A',71.45,1947.5,'s'],['9.1',71.45,1942.1,'s'],['9.2',71.45,1939.1,'s'],['8.1',71.45,1937.4,'s'],['5A',71.45,1923.9,'s'],['1.1',71.45,1909.2,'s'],['9C',71.45,1898.2,'s'],['8C',71.45,1896.9,'s'],['1C',71.45,1895.6,'s'],['3C',71.45,1894.1,'s'],['5C',71.45,1889.9,'s'],['2C',71.45,1888.4,'s'],['4C',71.45,1883.8,'s'],['2.1',71.45,1850.7,'s'],['4A',71.45,1849.2,'s'],['4B',71.45,1838.8,'s'],['5B',71.45,1830.1,'s'],['4A_1',71.45,1817,'s'],['4.1',71.45,1810,'s'],['8B',71.45,1808.5,'s'],['2B',71.45,1807,'s'],['1B',71.45,1798.9,'s'],['5.1',71.45,1797.3,'s'],['9B',71.45,1778.7,'s'],['2A',71.45,1728.1,'s'],['2A_1',71.45,1725.2,'s'],['3A',71.45,1720.5,'s'],['9A',71.45,1719.0,'s'],['1A',71.45,1717.7,'s']
];

// ---------------- STYLES ----------------
const palette = {lav:'#9595d4', lavL:'#adaddf', pur:'#7c6fb0', tan:'#eabf96', yel:'#e4eaa0', yelG:'#dbe38a', teal:'#95c6ad', aqua:'#9ad0c6', six:'#f1d7a4', dark:'#505050'};
const seriesDefs = [
 {c:'yel', segs:[s8A]}, {c:'lavL', segs:[s91]}, {c:'lavL', segs:[s92]}, {c:'yel', segs:[s81]},
 {c:'lav', segs:[s5A]}, {c:'lav', segs:[s11]}, {c:'lavL', segs:[s9C]},
 {c:'yelG', segs:[s8C]},
 {c:'tan', segs:[s21]}, {c:'tan', segs:[s4A]}, {c:'tan', segs:[s4A1_a, s4A1_b]},
 {c:'tan', segs:[s2C_a, s2C_c, s2C_e, s2C_g], dash:[s2C_b, s2C_d, s2C_f]},
 {c:'tan', segs:[s4C_a, s4C_c, s4C_e, s4C_g], dash:[s4C_b, s4C_d, s4C_f]},
 {c:'six', segs:[s6C_a, s6C_b, s6C_c, s6C_d]},
 {c:'lav', segs:[s5C]},
 {c:'teal', segs:[s3C_a, s3C_c, s3C_e], dash:[s3C_b, s3C_d]},
 {c:'pur', segs:[s1C]},
 {c:'tan', segs:[s4B]}, {c:'yel', segs:[s8B]}, {c:'tan', segs:[s41_b], dash:[s41_a]},
 {c:'tan', segs:[s2B]}, {c:'lavL', segs:[s9B]}, {c:'lav', segs:[s5B]}, {c:'lav', segs:[s1B]}, {c:'lav', segs:[s51]},
 {c:'six', segs:[s6_a, s6_b]}, {c:'six', segs:[s6A_a, s6A_b, s6A_c]}, {c:'yel', segs:[s61_a, s61_b]}, {c:'six', segs:[s6B_a, s6B_b, s6B_c]},
 {c:'tan', segs:[s2A1]}, {c:'tan', segs:[s2A]}, {c:'lavL', segs:[s9A]}, {c:'aqua', segs:[s3A]}, {c:'lav', segs:[s1A]},
 {c:'dark', segs:[sR], w:3.0}
];

// ---------------- DRAW ----------------
const RW = 4507, RH = 2710, K = 4096 / RW;
const svg = d3.select('body').append('svg').attr('width', 4096).attr('height', 2463).style('background', '#fcfdf3');
const root = svg.append('g').attr('transform', `scale(${K})`);
root.append('rect').attr('width', RW).attr('height', RH).attr('fill', '#fcfdf3');

const x = d3.scaleLinear().domain([0, 72]).range([132, 4349]);
const y = d3.scaleLinear().domain([1680, 1950]).range([2645, 62]);
const yM = d3.scaleLinear().domain([515, 595]).range([y(1688.7), y(1949.7)]);
const FT_TOP = 1955;
const axisCol = '#5c6359', textCol = '#707070';
const FONT = '"Liberation Sans Narrow","Arial Narrow","Liberation Sans",Arial,sans-serif';

// faint paper folds
root.selectAll('.fold').data(foldMonths).join('line')
  .attr('x1', d => x(d)).attr('x2', d => x(d)).attr('y1', y(FT_TOP)).attr('y2', y(1680))
  .attr('stroke', '#e6e9d8').attr('stroke-width', 3);

// series
const line = d3.line().x(d => x(d[0])).y(d => y(d[1])).curve(d3.curveMonotoneX);
const gS = root.append('g').attr('fill', 'none').attr('stroke-linejoin', 'round').attr('stroke-linecap', 'round');
seriesDefs.forEach(s => {
  s.segs.forEach(seg => gS.append('path').attr('d', line(seg)).attr('stroke', palette[s.c]).attr('stroke-width', s.w || 2.0));
  (s.dash || []).forEach(seg => gS.append('path').attr('d', line(seg)).attr('stroke', palette[s.c]).attr('stroke-width', 2.0).attr('stroke-dasharray', '14,9').attr('stroke-linecap', 'butt'));
});

// frame: top border with month ticks
root.append('line').attr('x1', x(0) - 9).attr('x2', x(72)).attr('y1', y(FT_TOP)).attr('y2', y(FT_TOP)).attr('stroke', axisCol).attr('stroke-width', 4);
root.selectAll('.ttick').data(d3.range(1, 72)).join('line')
  .attr('x1', d => x(d)).attr('x2', d => x(d)).attr('y1', y(FT_TOP)).attr('y2', y(FT_TOP) + 14)
  .attr('stroke', axisCol).attr('stroke-width', 3);

// year dividers with cross ticks
const dividers = [12, 24, 36, 48, 60];
dividers.forEach(t => {
  root.append('line').attr('x1', x(t)).attr('x2', x(t)).attr('y1', y(FT_TOP)).attr('y2', y(1680) + 28)
    .attr('stroke', axisCol).attr('stroke-width', 4);
  root.selectAll(null).data(feetTicks).join('line')
    .attr('x1', x(t) - 9).attr('x2', x(t) + 9).attr('y1', d => y(d)).attr('y2', d => y(d))
    .attr('stroke', axisCol).attr('stroke-width', 3);
});

// left axis
const gL = root.append('g').attr('transform', `translate(${x(0)},0)`)
  .call(d3.axisLeft(y).tickValues(feetTicks).tickSize(13).tickSizeOuter(0).tickPadding(5).tickFormat(d => d % 10 === 0 ? d : ''));
gL.select('.domain').remove();
gL.append('line').attr('y1', y(FT_TOP)).attr('y2', y(1680) + 28).attr('stroke', axisCol).attr('stroke-width', 4);
gL.selectAll('.tick line').attr('stroke', axisCol).attr('stroke-width', 3);
gL.selectAll('.tick text').attr('fill', textCol).style('font-family', FONT).style('font-size', '20px');

// right axis (metres)
const gR = root.append('g').attr('transform', `translate(${x(72)},0)`)
  .call(d3.axisRight(yM).tickValues(metreTicks).tickSize(11).tickPadding(6));
gR.select('.domain').remove();
gR.append('line').attr('y1', y(FT_TOP)).attr('y2', y(1680) + 20).attr('stroke', '#7b7f78').attr('stroke-width', 3.5);
gR.selectAll('.tick line').attr('stroke', '#7b7f78').attr('stroke-width', 2.5);
gR.selectAll('.tick text').attr('fill', textCol).style('font-family', FONT).style('font-size', '20px');

// bottom axis
const yb = y(1680);
root.append('line').attr('x1', x(0) - 18).attr('x2', x(72)).attr('y1', yb).attr('y2', yb).attr('stroke', axisCol).attr('stroke-width', 4);
const minor = [];
d3.range(0, 72).forEach(m => { for (let k = 1; k < 5; k++) minor.push(m + k / 5); });
root.selectAll('.mnt').data(minor).join('line')
  .attr('x1', d => x(d)).attr('x2', d => x(d)).attr('y1', yb).attr('y2', yb + 7)
  .attr('stroke', '#777c74').attr('stroke-width', 2);
root.selectAll('.mjt').data(d3.range(0, 73)).join('line')
  .attr('x1', d => x(d)).attr('x2', d => x(d)).attr('y1', yb).attr('y2', yb + 13)
  .attr('stroke', '#777c74').attr('stroke-width', 2.5);
const months = d3.range(0, 72).map(m => ({t: m + 0.5, s: monthLetters[m % 12]}));
root.selectAll('.ml').data(months).join('text')
  .attr('x', d => x(d.t)).attr('y', yb + 31).attr('text-anchor', 'middle')
  .attr('fill', textCol).style('font-family', FONT).style('font-size', '18px').text(d => d.s);
root.selectAll('.yl').data(years).join('text')
  .attr('x', (d, i) => x(i * 12 + 6)).attr('y', yb + 58).attr('text-anchor', 'middle')
  .attr('fill', textCol).style('font-family', FONT).style('font-size', '20px').text(d => d);

// axis titles
root.append('text').attr('transform', `translate(38,${y(1812)}) rotate(-90)`).attr('text-anchor', 'middle').attr('dominant-baseline', 'central')
  .attr('fill', textCol).style('font-family', '"Liberation Sans",Arial,sans-serif').style('font-size', '23px').style('letter-spacing', '1px').text('FEET ABOVE SEA LEVEL');
root.append('text').attr('transform', `translate(4441,${y(1815)}) rotate(90)`).attr('text-anchor', 'middle').attr('dominant-baseline', 'central')
  .attr('fill', textCol).style('font-family', '"Liberation Sans",Arial,sans-serif').style('font-size', '22px').style('letter-spacing', '1px').text('METRES ABOVE SEA LEVEL');

// series labels
const gT = root.append('g').style('font-family', FONT).style('font-size', '16px').attr('fill', '#727272');
labels.forEach(([txt, t, v, a]) => {
  const anchor = a === 'e' ? 'end' : a === 's' ? 'start' : 'middle';
  const el = gT.append('text').attr('x', x(t) + (a === 's' ? 3 : a === 'e' ? -3 : 0)).attr('y', y(v))
    .attr('dominant-baseline', 'central').attr('text-anchor', anchor);
  const parts = txt.split('_');
  el.append('tspan').text(parts[0]);
  if (parts[1]) el.append('tspan').attr('dy', 4).style('font-size', '11px').text(parts[1]);
});
</script>
</body></html>
